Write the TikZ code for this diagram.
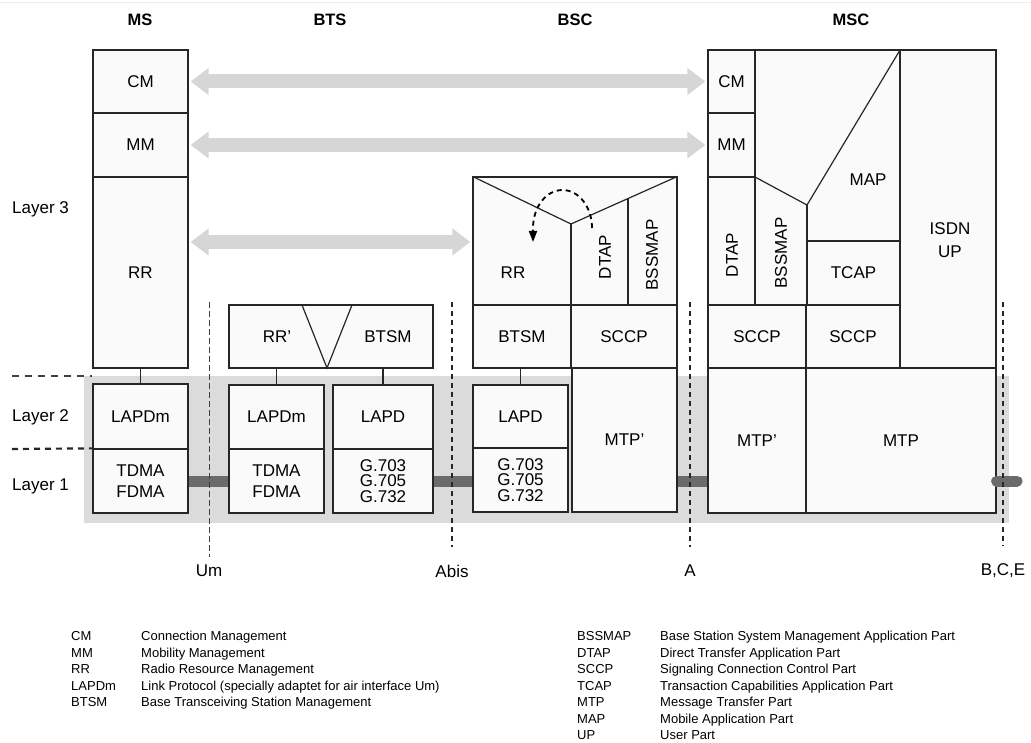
\documentclass[tikz,border=0pt]{standalone}
\usepackage{fontspec}
\setmainfont{Liberation Sans}
\usetikzlibrary{arrows.meta}

\tikzset{
  box/.style={draw=black!85, line width=1.3pt, fill=black!2, inner sep=0pt,
    align=center, font=\fontsize{17}{19.5}\selectfont},
  lbl/.style={inner sep=0pt, align=center, font=\fontsize{17}{19.5}\selectfont},
  ttl/.style={inner sep=0pt, font=\fontsize{16.5}{19}\selectfont\bfseries},
  legend/.style={inner sep=0pt, anchor=base west, font=\fontsize{13}{15}\selectfont},
  peer/.style={draw=black!16, line width=14pt, shorten <=2pt, shorten >=2pt,
    {Triangle[length=18pt,width=26pt]}-{Triangle[length=18pt,width=26pt]}},
  link/.style={draw=black!58, line width=11pt},
  conn/.style={draw=black!85, line width=1.3pt},
  inner/.style={draw=black!85, line width=1.2pt},
  umline/.style={draw=black!75, line width=1pt, dash pattern=on 6pt off 3pt},
  ifline/.style={draw=black!85, line width=2.7pt, dash pattern=on 5pt off 4pt},
  loopback/.style={draw=black, line width=1.8pt, dash pattern=on 5pt off 4pt,
    -{Triangle[length=11pt,width=8pt]}}
}

% name, x1, y1, x2, y2, text
\newcommand{\blk}[6]{
    \node[box, minimum width={(#4-#2)*1pt}, minimum height={(#5-#3)*1pt}]
      (#1) at ({(#2+#4)/2}, {(#3+#5)/2}) {#6};
}
% name, x, y, offset, abbreviation, meaning
\newcommand{\legrow}[6]{
    \node[legend] (#1) at (#2,#3) {#5};
    \node[legend] (#1-txt) at ({#2+#4},#3) {#6};
}

\begin{document}
\begin{tikzpicture}[x=1pt, y=-1pt]
  \useasboundingbox (0,0) rectangle (1031,743);
  \draw[black!7, line width=1pt] (0,3) -- (1031,3);

  % layer 1 and 2 band
  \fill[black!14] (84,376) rectangle (1009,523);

  % titles
  \node[ttl] (ms)  at (140,20) {MS};
  \node[ttl] (bts) at (330,20) {BTS};
  \node[ttl] (bsc) at (575,20) {BSC};
  \node[ttl] (msc) at (851,20) {MSC};

  \node[lbl, anchor=west] (layer3) at (12,209) {Layer 3};
  \node[lbl, anchor=west] (layer2) at (12,417) {Layer 2};
  \node[lbl, anchor=west] (layer1) at (12,486) {Layer 1};

  % MS
  \blk{mscm}{93}{50}{188}{113}{CM}
  \blk{msmm}{93}{113}{188}{177}{MM}
  \blk{msrr}{93}{177}{188}{368}{RR}
  \blk{mslapdm}{93}{384}{188}{449}{LAPDm}
  \blk{mstdma}{93}{449}{188}{513}{TDMA\\[1.5pt]FDMA}

  % BTS
  \blk{btsl3}{229}{305}{433}{368}{}
  \draw[inner] (302,305) -- (327,368) -- (352,305);
  \node[lbl] (btsrr) at (277,337) {RR’};
  \node[lbl] (btsbtsm) at (388,337) {BTSM};
  \blk{btslapdm}{229}{385}{324}{449}{LAPDm}
  \blk{btstdma}{229}{449}{324}{513}{TDMA\\[1.5pt]FDMA}
  \blk{btslapd}{333}{385}{433}{449}{LAPD}
  \blk{btsg}{333}{449}{433}{513}{G.703\\[-3.8pt]G.705\\[-3.8pt]G.732}

  % BSC
  \blk{bscl3}{473}{177}{677}{305}{}
  \draw[inner] (bscl3.north west) -- (571,224) -- (bscl3.north east);
  \draw[inner] (571,224) -- (571,305);
  \draw[inner] (628,199) -- (628,305);
  \node[lbl] (bscrr) at (513,273) {RR};
  \node[lbl, rotate=90] (bscdtap) at (605,257) {DTAP};
  \node[lbl, rotate=90] (bscbssmap) at (652,255) {BSSMAP};
  \blk{bscbtsm}{473}{305}{571}{368}{BTSM}
  \blk{bscsccp}{571}{305}{677}{368}{SCCP}
  \blk{bsclapd}{473}{385}{568}{448}{LAPD}
  \blk{bscg}{473}{448}{568}{512}{G.703\\[-3.8pt]G.705\\[-3.8pt]G.732}
  \blk{bscmtpp}{572}{368}{677}{512}{MTP’}
  \draw[loopback] (592,228) arc[start angle=0, end angle=-180, x radius=29.5, y radius=38]
    -- ++(0,14);

  % MSC
  \blk{msccm}{708}{50}{755}{113}{CM}
  \blk{mscmm}{708}{113}{755}{177}{MM}
  \blk{mscdtap}{708}{177}{755}{305}{}
  \node[lbl, rotate=90] (mscdtaptxt) at (732,255) {DTAP};
  \draw[box] (755,50) -- (900,50) -- (900,305) -- (755,305) -- cycle;
  \draw[inner] (755,177) -- (807,205) -- (900,50);
  \draw[inner] (807,205) -- (807,305);
  \node[lbl, rotate=90] (mscbssmap) at (781,253) {BSSMAP};
  \node[lbl] (mscmap) at (868,180) {MAP};
  \blk{msctcap}{807}{241}{900}{305}{TCAP}
  \blk{mscisdn}{900}{50}{996}{368}{}
  \node[lbl] (mscisdntxt) at (950,240) {ISDN\\[4pt]UP};
  \blk{mscsccpa}{708}{305}{806}{368}{SCCP}
  \blk{mscsccpb}{806}{305}{900}{368}{SCCP}
  \blk{mscmtpp}{708}{368}{806}{513}{MTP’}
  \blk{mscmtp}{806}{368}{996}{513}{MTP}

  % layer to layer
  \draw[conn] (msrr) -- (mslapdm);
  \draw[conn] (btslapdm.north) -- (btslapdm.north |- btsl3.south);
  \draw[conn] (btslapd.north) -- (btslapd.north |- btsl3.south);
  \draw[conn] (bsclapd.north) -- (bsclapd.north |- bscbtsm.south);

  % peer protocols
  \coordinate (rrlvl) at (0,242);
  \draw[peer] (mscm) -- (msccm);
  \draw[peer] (msmm) -- (mscmm);
  \draw[peer] (msrr.east |- rrlvl) -- (bscl3.west |- rrlvl);

  % physical links
  \coordinate (linklvl) at (0,481);
  \coordinate (linkend) at (1017,481);
  \draw[link] (mstdma.east |- linklvl) -- (btstdma.west |- linklvl);
  \draw[link] (btsg.east |- linklvl) -- (bscg.west |- linklvl);
  \draw[link] (bscmtpp.east |- linklvl) -- (mscmtpp.west |- linklvl);
  \draw[link, line cap=round] (mscmtp.east |- linklvl) -- (linkend);

  % interfaces
  \node[lbl] (um)   at (209,571)  {Um};
  \node[lbl] (abis) at (452,571)  {Abis};
  \node[lbl] (a)    at (690,571)  {A};
  \node[lbl] (bce)  at (1003,571) {B,C,E};
  \coordinate (umtop)   at (209,302);
  \coordinate (abistop) at (452,302);
  \coordinate (atop)    at (690,302);
  \coordinate (bcetop)  at (1003,302);
  \draw[umline, shorten >=8pt] (umtop) -- (um.north);
  \draw[ifline, shorten >=18pt] (abistop) -- (abis.north);
  \draw[ifline, shorten >=18pt] (atop) -- (a.north);
  \draw[ifline, shorten >=18pt] (bcetop) -- (bce.north);

  % layer borders
  \coordinate (l32) at (12,376);
  \coordinate (l21) at (12,449);
  \draw[draw=black!75, line width=1.2pt, dash pattern=on 7pt off 6pt]
    (l32) -- (mslapdm.west |- l32);
  \draw[draw=black!85, line width=2.2pt, dash pattern=on 6pt off 5pt]
    (l21) -- (mstdma.north west);

  % legend
  \legrow{lcm}{71}{640.5}{70}{CM}{Connection Management}
  \legrow{lmm}{71}{657}{70}{MM}{Mobility Management}
  \legrow{lrr}{71}{673.5}{70}{RR}{Radio Resource Management}
  \legrow{llapdm}{71}{690}{70}{LAPDm}{Link Protocol (specially adaptet for air interface Um)}
  \legrow{lbtsm}{71}{706.5}{70}{BTSM}{Base Transceiving Station Management}
  \legrow{lbssmap}{577}{640.5}{83}{BSSMAP}{Base Station System Management Application Part}
  \legrow{ldtap}{577}{657}{83}{DTAP}{Direct Transfer Application Part}
  \legrow{lsccp}{577}{673.5}{83}{SCCP}{Signaling Connection Control Part}
  \legrow{ltcap}{577}{690}{83}{TCAP}{Transaction Capabilities Application Part}
  \legrow{lmtp}{577}{706.5}{83}{MTP}{Message Transfer Part}
  \legrow{lmap}{577}{723}{83}{MAP}{Mobile Application Part}
  \legrow{lup}{577}{739.5}{83}{UP}{User Part}

\end{tikzpicture}
\end{document}
